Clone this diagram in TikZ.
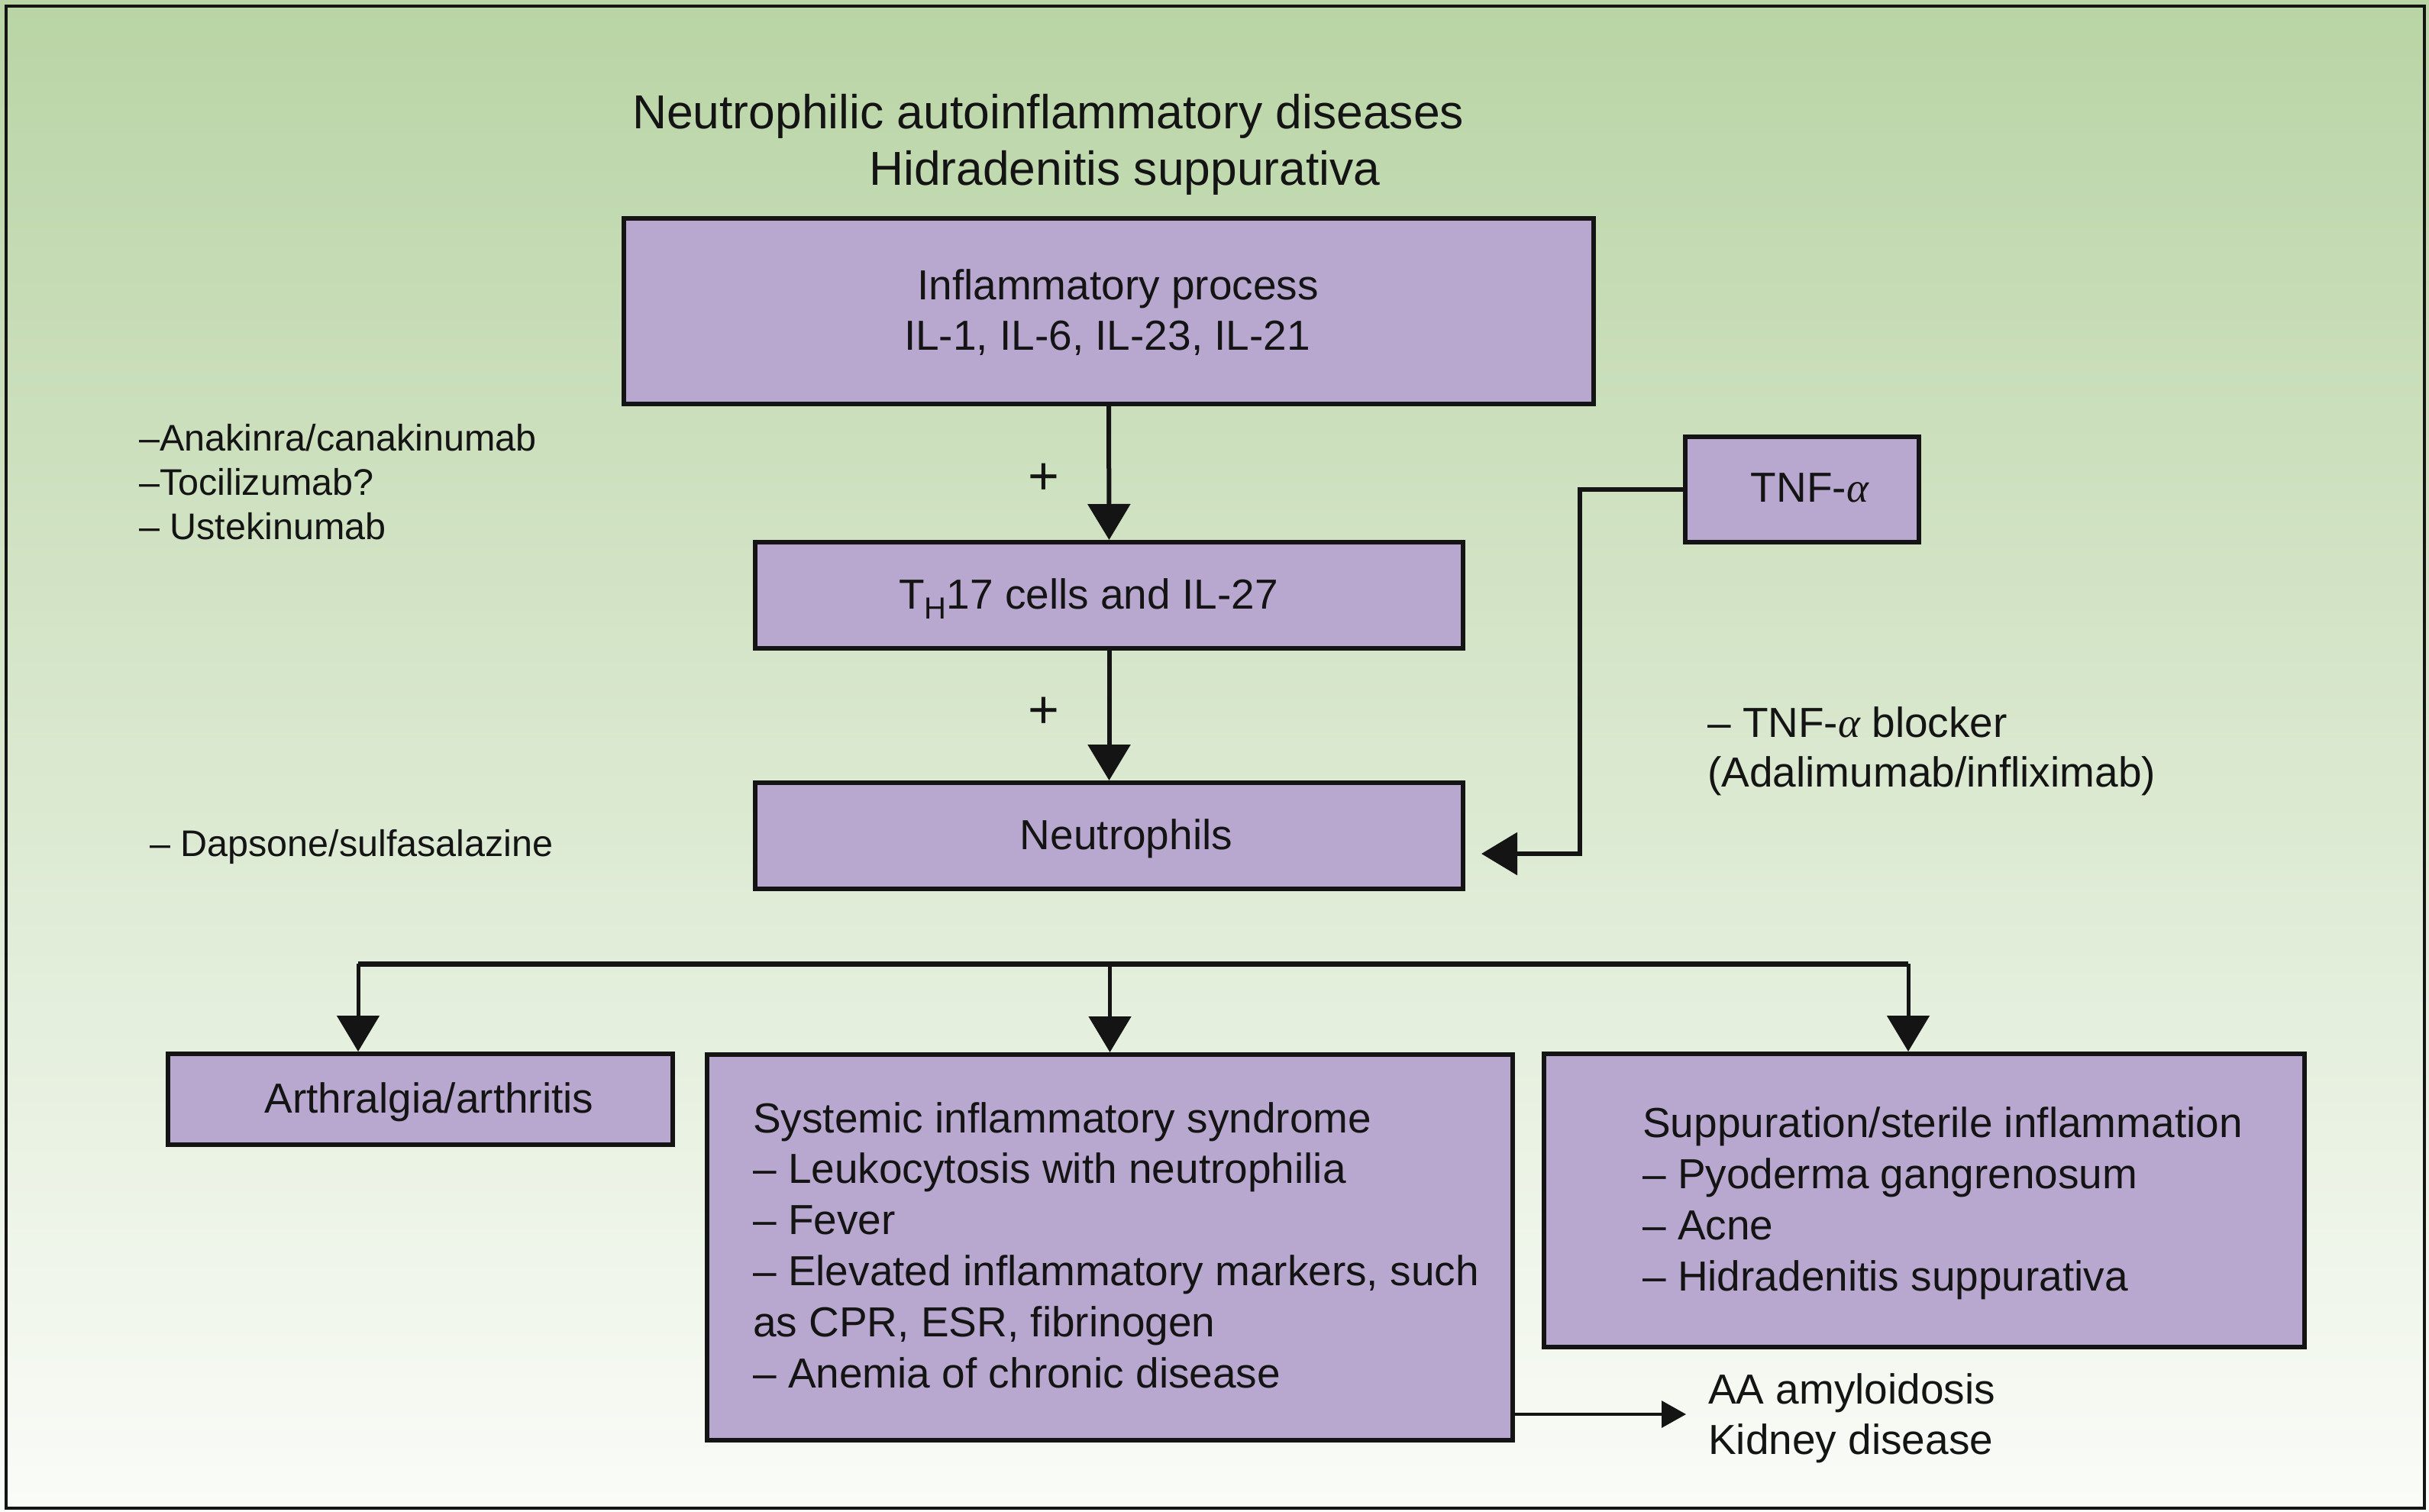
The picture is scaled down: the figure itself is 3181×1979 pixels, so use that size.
\documentclass[tikz,border=0pt]{standalone}
\usepackage{fontspec}
\setmainfont{Liberation Sans}
\newfontfamily\grkfont{Liberation Serif}
\usetikzlibrary{arrows.meta}
\definecolor{bgtop}{RGB}{185,212,165}
\definecolor{bgbot}{RGB}{250,252,248}
\definecolor{boxfill}{RGB}{184,168,207}
\definecolor{ink}{RGB}{20,20,20}
\newcommand\fsMain{\fontsize{55}{67}\selectfont}
\newcommand\fsTitle{\fontsize{62.4}{73}\selectfont}
\newcommand\fsDrug{\fontsize{48.5}{58}\selectfont}
\newcommand\alp{{\grkfont\itshape α}}
\begin{document}
\begin{tikzpicture}[x=1pt,y=-1pt,
  box/.style={draw=ink, fill=boxfill, line width=6pt, rectangle, inner sep=0pt},
  txt/.style={inner sep=0pt, text=ink, font=\fsMain},
  bigtip/.style={-{Triangle[length=47pt,width=55pt]}},
  mainarr/.style={draw=ink, line width=6pt, bigtip},
  brarr/.style={draw=ink, line width=5pt, bigtip},
  barline/.style={draw=ink, line width=7pt},
  tnfarr/.style={draw=ink, line width=6pt, bigtip},
  kidarr/.style={draw=ink, line width=3.5pt, -{Triangle[length=32pt,width=35pt]}}]
\useasboundingbox (0,0) rectangle (3181,1979);
\shade[top color=bgtop, bottom color=bgbot] (0,0) rectangle (3181,1979);
\draw[ink, line width=4pt] (8,8) rectangle (3175,1975);

% titles
\node[txt, font=\fsTitle, anchor=base west] (title1) at (828,168) {Neutrophilic autoinflammatory diseases};
\node[txt, font=\fsTitle, anchor=base west] (title2) at (1138,242) {Hidradenitis suppurativa};

% boxes
\node[box, minimum width=1270pt, minimum height=243pt] (b1) at (1452,407.5) {};
\node[box, minimum width=927pt, minimum height=139pt] (b2) at (1452.5,779.5) {};
\node[box, minimum width=927pt, minimum height=139pt] (b3) at (1452.5,1094.5) {};
\node[box, minimum width=306pt, minimum height=138pt] (tnf) at (2360,641) {};
\node[box, minimum width=661pt, minimum height=119pt] (arth) at (550.5,1439.5) {};
\node[box, minimum width=1055pt, minimum height=505pt] (sys) at (1453.5,1633.5) {};
\node[box, minimum width=996pt, minimum height=384pt] (sup) at (2520,1572) {};

% box texts
\node[txt, anchor=base] (b1a) at (1464,392) {Inflammatory process};
\node[txt, anchor=base] (b1b) at (1450,458) {IL-1, IL-6, IL-23, IL-21};
\node[txt, anchor=base west] (b2t) at (1177,797) {T\raisebox{-13pt}{\fontsize{40}{40}\selectfont H}17 cells and IL-27};
\node[txt, anchor=base] (b3t) at (1475,1112) {Neutrophils};
\node[txt, anchor=base] (tnft) at (2370,657) {TNF-\alp};
\node[txt, anchor=base] (artht) at (562,1457) {Arthralgia/arthritis};
\node[txt, font=\fontsize{55}{66.8}\selectfont, anchor=base west, align=left] (syst) at (986,1817)
  {Systemic inflammatory syndrome\\
   – Leukocytosis with neutrophilia\\
   – Fever\\
   – Elevated inflammatory markers, such\\
   as CPR, ESR, fibrinogen\\
   – Anemia of chronic disease};
\node[txt, font=\fontsize{55}{66.7}\selectfont, anchor=base west, align=left] (supt) at (2151,1690)
  {Suppuration/sterile inflammation\\
   – Pyoderma gangrenosum\\
   – Acne\\
   – Hidradenitis suppurativa};

% side texts
\node[txt, font=\fsDrug, anchor=base west, align=left] (drugs) at (182,706)
  {–Anakinra/canakinumab\\
   –Tocilizumab?\\
   – Ustekinumab};
\node[txt, font=\fsDrug, anchor=base west] (dapsone) at (196,1121) {– Dapsone/sulfasalazine};
\node[txt, font=\fontsize{55}{65}\selectfont, anchor=base west, align=left] (blocker) at (2236,1030)
  {– TNF-\alp{} blocker\\
   (Adalimumab/infliximab)};
\node[txt, font=\fontsize{55}{66}\selectfont, anchor=base west, align=left] (aa) at (2237,1904)
  {AA amyloidosis\\
   Kidney disease};
\node[txt, font=\fontsize{70}{70}\selectfont] (plus1) at (1367,627) {+};
\node[txt, font=\fontsize{70}{70}\selectfont] (plus2) at (1367,933) {+};

% connectors
\draw[mainarr] (b1.south) -- (b2.north);
\draw[mainarr] (b2.south) -- (b3.north);
\coordinate (tnfbend) at (2069,1118);
\coordinate (tnfend) at (1940,1118);
\draw[tnfarr] (tnf.west) -| (tnfbend) -- (tnfend);
\coordinate (barL) at (469,1262);
\coordinate (barR) at (2499,1262);
\draw[barline] (barL) -- (barR);
\draw[brarr] (barL) -- (barL |- arth.north);
\draw[brarr] (sys.north |- barL) -- (sys.north);
\draw[brarr] (barR) -- (barR |- sup.north);
\coordinate (kidend) at (2208,1852);
\draw[kidarr] (sys.east |- kidend) -- (kidend);
\end{tikzpicture}
\end{document}
